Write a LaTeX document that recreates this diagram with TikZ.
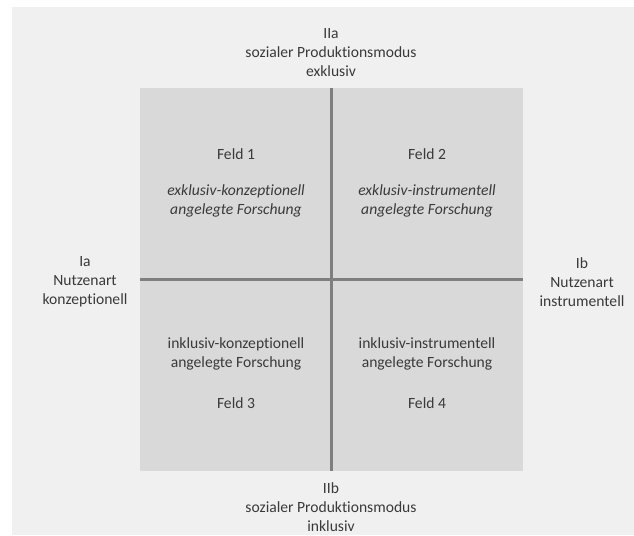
\documentclass[tikz,border=0pt]{standalone}
\usepackage{fontspec}
\setmainfont{Carlito}[Ligatures=NoCommon]
\usepackage{tikz}
\usetikzlibrary{positioning,calc}
\definecolor{panelgray}{HTML}{F0F0F0}
\definecolor{fieldgray}{HTML}{D9D9D9}
\definecolor{axisgray}{HTML}{7F7F7F}
\definecolor{textgray}{HTML}{3A3A3A}
\tikzset{
	field matrix/.style={
		x=0.75pt, y=-0.75pt,
		every node/.style={
			font=\fontsize{11.7}{14.25}\selectfont,
			text=textgray, align=center, inner sep=0pt}},
	fieldbox/.style={fill=fieldgray, minimum width=287.25pt, minimum height=287.25pt},
	axis/.style={draw=axisgray, line width=2.2pt},
	kind/.style={font=\fontsize{11.7}{14.25}\selectfont\itshape}
}
\begin{document}
\begin{tikzpicture}[field matrix]
  \useasboundingbox (0,0) rectangle (634,535);
  \fill[panelgray] (12,7) rectangle (634,535);
  \node[fieldbox] (feld) at (331.5,279.5) {};
  \draw[axis] (feld.north) -- (feld.south);
  \draw[axis] (feld.west) -- (feld.east);
  % quadrants
  \node (f1) at (236,154) {Feld 1};
  \node[kind] (f1text) at (236,201) {exklusiv-konzeptionell\\angelegte Forschung};
  \node (f2) at (427,154) {Feld 2};
  \node[kind] (f2text) at (427,201) {exklusiv-instrumentell\\angelegte Forschung};
  \node (f3text) at (236,354) {inklusiv-konzeptionell\\angelegte Forschung};
  \node (f3) at (236,403) {Feld 3};
  \node (f4text) at (427,354) {inklusiv-instrumentell\\angelegte Forschung};
  \node (f4) at (427,403) {Feld 4};
  % axes
  \node (IIa) at (331,53) {IIa\\sozialer Produktionsmodus\\exklusiv};
  \node (IIb) at (331,507) {IIb\\sozialer Produktionsmodus\\inklusiv};
  \node (Ia) at (85,282) {Ia\\Nutzenart\\konzeptionell};
  \node (Ib) at (582,282) {Ib\\Nutzenart\\instrumentell};
\end{tikzpicture}
\end{document}
